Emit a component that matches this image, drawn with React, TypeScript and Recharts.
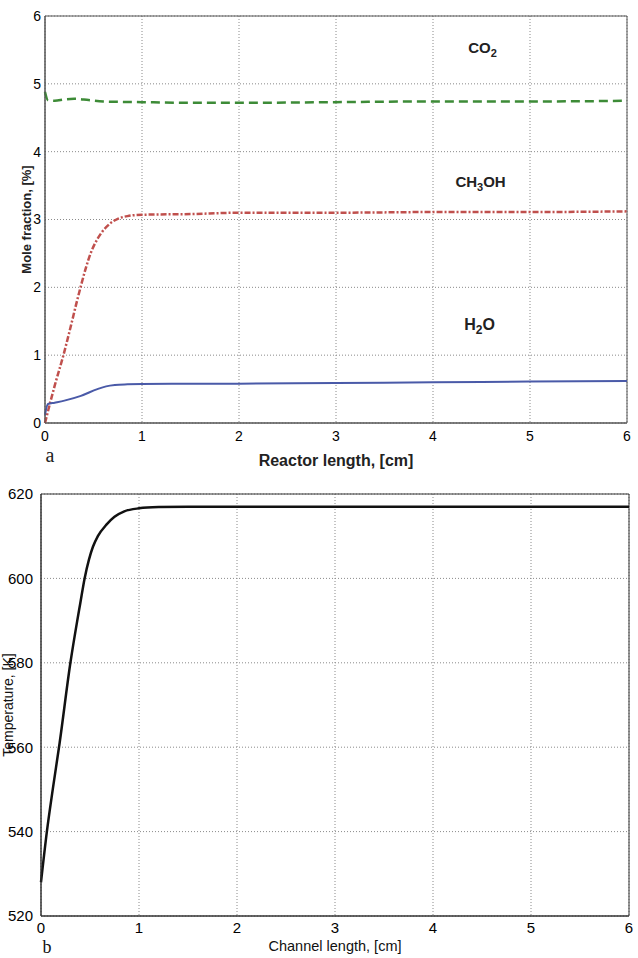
import React from 'react';
import { LineChart, Line, XAxis, YAxis, CartesianGrid, ReferenceArea, ReferenceDot } from 'recharts';

const lengthTicks = [0, 1, 2, 3, 4, 5, 6];
const moleTicks = [0, 1, 2, 3, 4, 5, 6];
const tempTicks = [520, 540, 560, 580, 600, 620];

const co2X = [0, 0.03, 0.1, 0.2, 0.3, 0.45, 0.6, 1, 1.5, 2, 3, 4, 5, 6];
const co2Y = [4.88, 4.76, 4.75, 4.77, 4.78, 4.76, 4.74, 4.73, 4.72, 4.72, 4.73, 4.74, 4.74, 4.75];

const methanolX = [0, 0.05, 0.1, 0.19, 0.27, 0.33, 0.37, 0.42, 0.47, 0.52, 0.58, 0.67, 0.75, 0.85, 1, 1.5, 2, 3, 4, 5, 6];
const methanolY = [0, 0.28, 0.55, 1.0, 1.45, 1.8, 2.02, 2.28, 2.5, 2.66, 2.8, 2.94, 3.01, 3.05, 3.07, 3.08, 3.1, 3.1, 3.11, 3.11, 3.12];

const waterX = [0, 0.03, 0.1, 0.2, 0.37, 0.54, 0.63, 0.72, 0.85, 1, 2, 3, 4, 5, 6];
const waterY = [0.12, 0.28, 0.3, 0.33, 0.4, 0.5, 0.54, 0.56, 0.57, 0.575, 0.58, 0.59, 0.6, 0.61, 0.62];

const tempX = [0, 0.06, 0.12, 0.19, 0.3, 0.37, 0.4, 0.445, 0.49, 0.53, 0.58, 0.67, 0.75, 0.85, 1, 1.2, 1.5, 2, 3, 4, 5, 6];
const tempY = [528, 540, 550, 561, 580, 590, 594, 600, 604.5, 607.5, 610, 612.8, 614.6, 615.9, 616.6, 616.9, 617, 617, 617, 617, 617, 617];

const zip = (xs: number[], ys: number[]) => xs.map((x, i) => ({ x, y: ys[i] }));

const co2 = zip(co2X, co2Y);
const methanol = zip(methanolX, methanolY);
const water = zip(waterX, waterY);
const temperature = zip(tempX, tempY);

const FONT = '"Liberation Sans", Arial, sans-serif';
const SERIF = '"Liberation Serif", "Times New Roman", serif';
const gridStroke = '#8a8a8a';

// chemical label with subscript digits
const Species = ({ cx, cy, parts, size }: any) => (
  <text x={cx} y={cy} textAnchor="middle" fontFamily={FONT} fontWeight="bold" fontSize={size} fill="#222">
    {parts.map((p: [string, boolean], i: number) =>
      p[1] ? (
        <tspan key={i} dy={4} fontSize={size - 4}>{p[0]}</tspan>
      ) : (
        <tspan key={i} dy={i > 0 ? -4 : 0}>{p[0]}</tspan>
      )
    )}
  </text>
);

export default function App() {
  return (
    <div style={{ position: 'absolute', left: 0, top: 0, width: 638, height: 958, background: '#fff', fontFamily: FONT }}>
      <div style={{ position: 'absolute', left: 0, top: 0 }}>
        <LineChart width={638} height={480} margin={{ top: 16, right: 11, left: 0, bottom: 27 }}>
          <CartesianGrid stroke={gridStroke} strokeDasharray="1 2" />
          <XAxis
            type="number"
            dataKey="x"
            domain={[0, 6]}
            ticks={lengthTicks}
            height={30}
            tickLine={false}
            axisLine={{ stroke: '#555' }}
            tick={{ fontSize: 14, fill: '#000', fontFamily: FONT }}
            label={({ viewBox }: any) => (
              <g>
                <text x={viewBox.x + viewBox.width / 2} y={466} textAnchor="middle" fontFamily={FONT} fontWeight="bold" fontSize={16} fill="#222">
                  Reactor length, [cm]
                </text>
                <text x={50} y={462} textAnchor="middle" fontFamily={SERIF} fontSize={20} fill="#222">a</text>
              </g>
            )}
          />
          <YAxis
            type="number"
            domain={[0, 6]}
            ticks={moleTicks}
            width={45}
            tickLine={false}
            tickSize={2}
            axisLine={{ stroke: '#555' }}
            tick={{ fontSize: 14, fill: '#000', fontFamily: FONT }}
            label={({ viewBox }: any) => {
              const cy = viewBox.y + viewBox.height / 2;
              return (
                <text x={31} y={cy} transform={`rotate(-90, 31, ${cy})`} textAnchor="middle" fontFamily={FONT} fontWeight="bold" fontSize={13} fill="#222">
                  Mole fraction, [%]
                </text>
              );
            }}
          />
          <ReferenceArea x1={0} x2={6} y1={0} y2={6} fill="none" fillOpacity={0} stroke="#555" strokeWidth={1} />
          <Line data={co2} dataKey="y" type="monotone" stroke="#3d8b37" strokeWidth={2.5} strokeDasharray="9 5" dot={false} isAnimationActive={false} />
          <Line data={methanol} dataKey="y" type="monotone" stroke="#c0504d" strokeWidth={2.5} strokeDasharray="6 2 2 2" dot={false} isAnimationActive={false} />
          <Line data={water} dataKey="y" type="monotone" stroke="#4a5aa8" strokeWidth={2} dot={false} isAnimationActive={false} />
          <ReferenceDot x={4.51} y={5.45} r={0} shape={(p: any) => <Species cx={p.cx} cy={p.cy} size={15} parts={[['CO', false], ['2', true]]} />} />
          <ReferenceDot x={4.49} y={3.48} r={0} shape={(p: any) => <Species cx={p.cx} cy={p.cy} size={15} parts={[['CH', false], ['3', true], ['OH', false]]} />} />
          <ReferenceDot x={4.48} y={1.37} r={0} shape={(p: any) => <Species cx={p.cx} cy={p.cy} size={16} parts={[['H', false], ['2', true], ['O', false]]} />} />
        </LineChart>
      </div>
      <div style={{ position: 'absolute', left: 0, top: 470 }}>
        <LineChart width={638} height={488} margin={{ top: 24, right: 9, left: 0, bottom: 18 }}>
          <CartesianGrid stroke={gridStroke} strokeDasharray="1 2" />
          <XAxis
            type="number"
            dataKey="x"
            domain={[0, 6]}
            ticks={lengthTicks}
            height={24}
            tickLine={false}
            tickMargin={0}
            axisLine={{ stroke: '#333' }}
            tick={{ fontSize: 15, fill: '#000', fontFamily: FONT }}
            label={({ viewBox }: any) => (
              <g>
                <text x={viewBox.x + viewBox.width / 2} y={481} textAnchor="middle" fontFamily={FONT} fontSize={14.5} fill="#111">
                  Channel length, [cm]
                </text>
                <text x={47} y={483} textAnchor="middle" fontFamily={SERIF} fontSize={18} fill="#111">b</text>
              </g>
            )}
          />
          <YAxis
            type="number"
            domain={[520, 620]}
            ticks={tempTicks}
            width={41}
            tickLine={false}
            axisLine={{ stroke: '#333' }}
            tick={{ fontSize: 15, fill: '#000', fontFamily: FONT }}
            label={({ viewBox }: any) => {
              const cy = viewBox.y + viewBox.height / 2;
              return (
                <text x={13} y={cy} transform={`rotate(-90, 13, ${cy})`} textAnchor="middle" fontFamily={FONT} fontSize={14} fill="#111">
                  Temperature, [K]
                </text>
              );
            }}
          />
          <ReferenceArea x1={0} x2={6} y1={520} y2={620} fill="none" fillOpacity={0} stroke="#333" strokeWidth={1} />
          <Line data={temperature} dataKey="y" type="monotone" stroke="#111" strokeWidth={2.5} dot={false} isAnimationActive={false} />
        </LineChart>
      </div>
    </div>
  );
}
